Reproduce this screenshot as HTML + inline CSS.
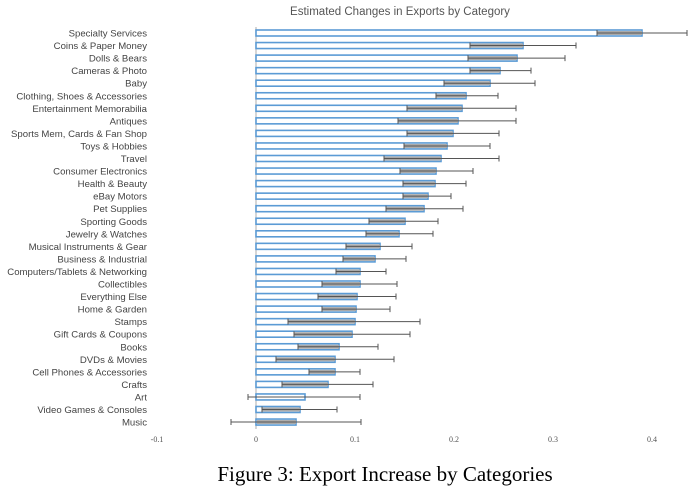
<!DOCTYPE html>
<html><head><meta charset="utf-8"><style>
html,body{margin:0;padding:0;background:#fff;}
svg{display:block;font-family:"Liberation Sans",sans-serif;}
.l{font-size:9.6px;fill:#444;text-anchor:end;}
.b{fill:#fff;stroke:#5b9bd5;stroke-width:1.6;}
.g{fill:#aaa;}
.e{stroke:#555;stroke-width:1;fill:none;}
.t{font-size:8px;fill:#555;text-anchor:middle;font-family:"Liberation Serif",serif;}
</style></head><body>
<svg width="700" height="488" viewBox="0 0 700 488">
<text x="400" y="15" font-size="11.5" fill="#555" text-anchor="middle">Estimated Changes in Exports by Category</text>
<line x1="256" y1="27" x2="256" y2="429" stroke="#bbb" stroke-width="1.2"/>
<g transform="translate(0,33)"><text class="l" x="147" y="3.5">Specialty Services</text><rect class="b" x="256" y="-3" width="386" height="6"/><rect class="g" x="597" y="-2" width="45" height="4"/><path class="e" d="M597 0H687M597 -3v6M687 -3v6"/></g>
<g transform="translate(0,45.55)"><text class="l" x="147" y="3.5">Coins &amp; Paper Money</text><rect class="b" x="256" y="-3" width="267" height="6"/><rect class="g" x="470" y="-2" width="53" height="4"/><path class="e" d="M470 0H576M470 -3v6M576 -3v6"/></g>
<g transform="translate(0,58.1)"><text class="l" x="147" y="3.5">Dolls &amp; Bears</text><rect class="b" x="256" y="-3" width="261" height="6"/><rect class="g" x="468" y="-2" width="49" height="4"/><path class="e" d="M468 0H565M468 -3v6M565 -3v6"/></g>
<g transform="translate(0,70.65)"><text class="l" x="147" y="3.5">Cameras &amp; Photo</text><rect class="b" x="256" y="-3" width="244" height="6"/><rect class="g" x="470" y="-2" width="30" height="4"/><path class="e" d="M470 0H531M470 -3v6M531 -3v6"/></g>
<g transform="translate(0,83.2)"><text class="l" x="147" y="3.5">Baby</text><rect class="b" x="256" y="-3" width="234" height="6"/><rect class="g" x="444" y="-2" width="46" height="4"/><path class="e" d="M444 0H535M444 -3v6M535 -3v6"/></g>
<g transform="translate(0,95.75)"><text class="l" x="147" y="3.5">Clothing, Shoes &amp; Accessories</text><rect class="b" x="256" y="-3" width="210" height="6"/><rect class="g" x="436" y="-2" width="30" height="4"/><path class="e" d="M436 0H498M436 -3v6M498 -3v6"/></g>
<g transform="translate(0,108.3)"><text class="l" x="147" y="3.5">Entertainment Memorabilia</text><rect class="b" x="256" y="-3" width="206" height="6"/><rect class="g" x="407" y="-2" width="55" height="4"/><path class="e" d="M407 0H516M407 -3v6M516 -3v6"/></g>
<g transform="translate(0,120.85)"><text class="l" x="147" y="3.5">Antiques</text><rect class="b" x="256" y="-3" width="202" height="6"/><rect class="g" x="398" y="-2" width="60" height="4"/><path class="e" d="M398 0H516M398 -3v6M516 -3v6"/></g>
<g transform="translate(0,133.4)"><text class="l" x="147" y="3.5">Sports Mem, Cards &amp; Fan Shop</text><rect class="b" x="256" y="-3" width="197" height="6"/><rect class="g" x="407" y="-2" width="46" height="4"/><path class="e" d="M407 0H499M407 -3v6M499 -3v6"/></g>
<g transform="translate(0,145.95)"><text class="l" x="147" y="3.5">Toys &amp; Hobbies</text><rect class="b" x="256" y="-3" width="191" height="6"/><rect class="g" x="404" y="-2" width="43" height="4"/><path class="e" d="M404 0H490M404 -3v6M490 -3v6"/></g>
<g transform="translate(0,158.5)"><text class="l" x="147" y="3.5">Travel</text><rect class="b" x="256" y="-3" width="185" height="6"/><rect class="g" x="384" y="-2" width="57" height="4"/><path class="e" d="M384 0H499M384 -3v6M499 -3v6"/></g>
<g transform="translate(0,171.05)"><text class="l" x="147" y="3.5">Consumer Electronics</text><rect class="b" x="256" y="-3" width="180" height="6"/><rect class="g" x="400" y="-2" width="36" height="4"/><path class="e" d="M400 0H473M400 -3v6M473 -3v6"/></g>
<g transform="translate(0,183.6)"><text class="l" x="147" y="3.5">Health &amp; Beauty</text><rect class="b" x="256" y="-3" width="179" height="6"/><rect class="g" x="403" y="-2" width="32" height="4"/><path class="e" d="M403 0H466M403 -3v6M466 -3v6"/></g>
<g transform="translate(0,196.15)"><text class="l" x="147" y="3.5">eBay Motors</text><rect class="b" x="256" y="-3" width="172" height="6"/><rect class="g" x="403" y="-2" width="25" height="4"/><path class="e" d="M403 0H451M403 -3v6M451 -3v6"/></g>
<g transform="translate(0,208.7)"><text class="l" x="147" y="3.5">Pet Supplies</text><rect class="b" x="256" y="-3" width="168" height="6"/><rect class="g" x="386" y="-2" width="38" height="4"/><path class="e" d="M386 0H463M386 -3v6M463 -3v6"/></g>
<g transform="translate(0,221.25)"><text class="l" x="147" y="3.5">Sporting Goods</text><rect class="b" x="256" y="-3" width="149" height="6"/><rect class="g" x="369" y="-2" width="36" height="4"/><path class="e" d="M369 0H438M369 -3v6M438 -3v6"/></g>
<g transform="translate(0,233.8)"><text class="l" x="147" y="3.5">Jewelry &amp; Watches</text><rect class="b" x="256" y="-3" width="143" height="6"/><rect class="g" x="366" y="-2" width="33" height="4"/><path class="e" d="M366 0H433M366 -3v6M433 -3v6"/></g>
<g transform="translate(0,246.35)"><text class="l" x="147" y="3.5">Musical Instruments &amp; Gear</text><rect class="b" x="256" y="-3" width="124" height="6"/><rect class="g" x="346" y="-2" width="34" height="4"/><path class="e" d="M346 0H412M346 -3v6M412 -3v6"/></g>
<g transform="translate(0,258.9)"><text class="l" x="147" y="3.5">Business &amp; Industrial</text><rect class="b" x="256" y="-3" width="119" height="6"/><rect class="g" x="343" y="-2" width="32" height="4"/><path class="e" d="M343 0H406M343 -3v6M406 -3v6"/></g>
<g transform="translate(0,271.45)"><text class="l" x="147" y="3.5">Computers/Tablets &amp; Networking</text><rect class="b" x="256" y="-3" width="104" height="6"/><rect class="g" x="336" y="-2" width="24" height="4"/><path class="e" d="M336 0H386M336 -3v6M386 -3v6"/></g>
<g transform="translate(0,284)"><text class="l" x="147" y="3.5">Collectibles</text><rect class="b" x="256" y="-3" width="104" height="6"/><rect class="g" x="322" y="-2" width="38" height="4"/><path class="e" d="M322 0H397M322 -3v6M397 -3v6"/></g>
<g transform="translate(0,296.55)"><text class="l" x="147" y="3.5">Everything Else</text><rect class="b" x="256" y="-3" width="101" height="6"/><rect class="g" x="318" y="-2" width="39" height="4"/><path class="e" d="M318 0H396M318 -3v6M396 -3v6"/></g>
<g transform="translate(0,309.1)"><text class="l" x="147" y="3.5">Home &amp; Garden</text><rect class="b" x="256" y="-3" width="100" height="6"/><rect class="g" x="322" y="-2" width="34" height="4"/><path class="e" d="M322 0H390M322 -3v6M390 -3v6"/></g>
<g transform="translate(0,321.65)"><text class="l" x="147" y="3.5">Stamps</text><rect class="b" x="256" y="-3" width="99" height="6"/><rect class="g" x="288" y="-2" width="67" height="4"/><path class="e" d="M288 0H420M288 -3v6M420 -3v6"/></g>
<g transform="translate(0,334.2)"><text class="l" x="147" y="3.5">Gift Cards &amp; Coupons</text><rect class="b" x="256" y="-3" width="96" height="6"/><rect class="g" x="294" y="-2" width="58" height="4"/><path class="e" d="M294 0H410M294 -3v6M410 -3v6"/></g>
<g transform="translate(0,346.75)"><text class="l" x="147" y="3.5">Books</text><rect class="b" x="256" y="-3" width="83" height="6"/><rect class="g" x="298" y="-2" width="41" height="4"/><path class="e" d="M298 0H378M298 -3v6M378 -3v6"/></g>
<g transform="translate(0,359.3)"><text class="l" x="147" y="3.5">DVDs &amp; Movies</text><rect class="b" x="256" y="-3" width="79" height="6"/><rect class="g" x="276" y="-2" width="59" height="4"/><path class="e" d="M276 0H394M276 -3v6M394 -3v6"/></g>
<g transform="translate(0,371.85)"><text class="l" x="147" y="3.5">Cell Phones &amp; Accessories</text><rect class="b" x="256" y="-3" width="79" height="6"/><rect class="g" x="309" y="-2" width="26" height="4"/><path class="e" d="M309 0H360M309 -3v6M360 -3v6"/></g>
<g transform="translate(0,384.4)"><text class="l" x="147" y="3.5">Crafts</text><rect class="b" x="256" y="-3" width="72" height="6"/><rect class="g" x="282" y="-2" width="46" height="4"/><path class="e" d="M282 0H373M282 -3v6M373 -3v6"/></g>
<g transform="translate(0,396.95)"><text class="l" x="147" y="3.5">Art</text><rect class="b" x="256" y="-3" width="49" height="6"/><path class="e" d="M248 0H360M248 -3v6M360 -3v6"/></g>
<g transform="translate(0,409.5)"><text class="l" x="147" y="3.5">Video Games &amp; Consoles</text><rect class="b" x="256" y="-3" width="44" height="6"/><rect class="g" x="262" y="-2" width="38" height="4"/><path class="e" d="M262 0H337M262 -3v6M337 -3v6"/></g>
<g transform="translate(0,422.05)"><text class="l" x="147" y="3.5">Music</text><rect class="b" x="256" y="-3" width="40" height="6"/><rect class="g" x="257" y="-2" width="39" height="4"/><path class="e" d="M231 0H361M231 -3v6M361 -3v6"/></g>
<text class="t" x="157" y="442">-0.1</text>
<text class="t" x="256" y="442">0</text>
<text class="t" x="355" y="442">0.1</text>
<text class="t" x="454" y="442">0.2</text>
<text class="t" x="553" y="442">0.3</text>
<text class="t" x="652" y="442">0.4</text>
<text x="385" y="481" font-family="Liberation Serif, serif" font-size="21" fill="#000" text-anchor="middle">Figure 3: Export Increase by Categories</text>
</svg>
</body></html>
